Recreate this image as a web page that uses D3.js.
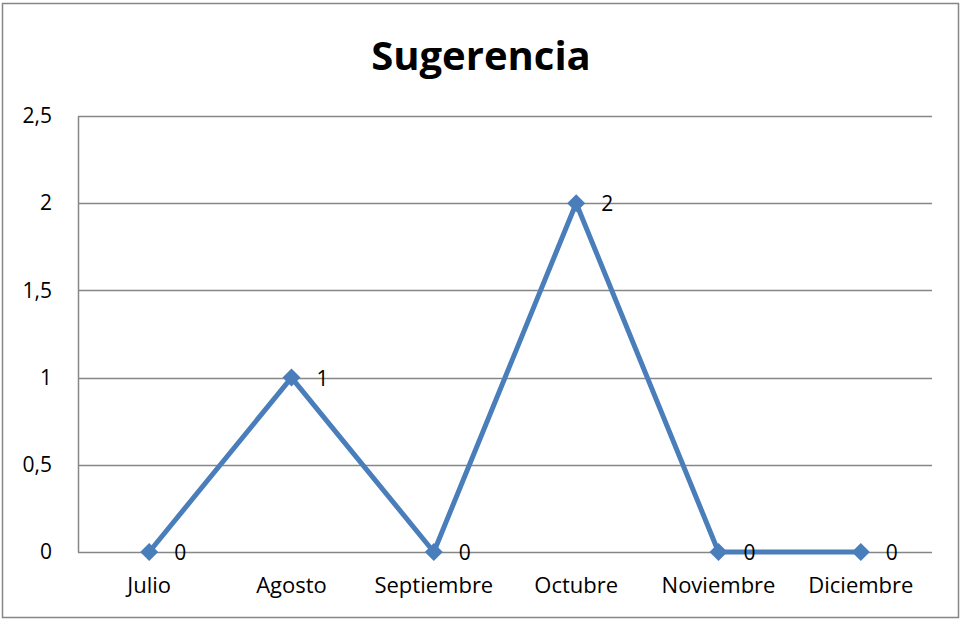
<!DOCTYPE html>
<html>
<head>
<meta charset="utf-8">
<script src="https://cdn.jsdelivr.net/npm/d3@7"></script>
<style>
  body { margin: 0; background: #fff; }
  text { font-family: "Open Sans", "Noto Sans", sans-serif; fill: #000; }
</style>
</head>
<body>
<script>
// Data
const months = ["Julio", "Agosto", "Septiembre", "Octubre", "Noviembre", "Diciembre"];
const values = [0, 1, 0, 2, 0, 0];
const yTicks = [0, 0.5, 1, 1.5, 2, 2.5];

const width = 961, height = 620;
const margin = { top: 116, right: 29, bottom: 68, left: 78 },
    graphWidth = width - margin.left - margin.right,
    graphHeight = height - margin.top - margin.bottom;

const svg = d3.select("body")
    .append("svg")
    .attr("width", width)
    .attr("height", height);

// outer border
svg.append("rect")
    .attr("x", 2.5).attr("y", 3.5)
    .attr("width", width - 5).attr("height", height - 6)
    .attr("fill", "none")
    .attr("stroke", "#868686")
    .attr("stroke-width", 1.5);

// title
svg.append("text")
    .attr("x", 481).attr("y", 70)
    .attr("text-anchor", "middle")
    .attr("font-size", 40)
    .attr("font-weight", "bold")
    .text("Sugerencia");

const graph = svg.append("g")
    .attr("transform", `translate(${margin.left}, ${margin.top})`);

const x = d3.scaleBand().domain(months).range([0, graphWidth]);
const y = d3.scaleLinear().domain([0, 2.5]).range([graphHeight, 0]);
const fmt = d => String(d).replace(".", ",");

// gridlines
graph.append("g")
    .selectAll("line")
    .data(yTicks)
    .join("line")
    .attr("x1", 0).attr("x2", graphWidth)
    .attr("y1", d => Math.round(y(d)) + 0.5)
    .attr("y2", d => Math.round(y(d)) + 0.5)
    .attr("stroke", "#868686")
    .attr("stroke-width", 1.5);

// y axis
const yAxisGroup = graph.append("g")
    .call(d3.axisLeft(y).tickValues(yTicks).tickSize(0).tickPadding(26).tickFormat(fmt));
yAxisGroup.select(".domain").attr("stroke", "#868686").attr("stroke-width", 1.5);
yAxisGroup.selectAll("text").attr("font-size", 21).attr("fill", "#000")
    .style("font-family", "'Open Sans', sans-serif");

// x axis labels
const xAxisGroup = graph.append("g")
    .attr("transform", `translate(0, ${graphHeight})`)
    .call(d3.axisBottom(x).tickSize(0).tickPadding(25));
xAxisGroup.select(".domain").remove();
xAxisGroup.selectAll("text").attr("font-size", 22).attr("fill", "#000")
    .style("font-family", "'Open Sans', sans-serif");

const cx = d => x(d) + x.bandwidth() / 2;
const data = months.map((m, i) => ({ m, v: values[i] }));

// line
graph.append("path")
    .datum(data)
    .attr("fill", "none")
    .attr("stroke", "#4A7EBB")
    .attr("stroke-width", 5)
    .attr("stroke-linejoin", "round")
    .attr("d", d3.line().x(d => cx(d.m)).y(d => y(d.v)));

// diamond markers
graph.selectAll(".marker")
    .data(data)
    .join("path")
    .attr("class", "marker")
    .attr("transform", d => `translate(${cx(d.m)}, ${y(d.v)})`)
    .attr("d", "M0,-9L9,0L0,9L-9,0Z")
    .attr("fill", "#4A7EBB");

// data labels
graph.selectAll(".label")
    .data(data)
    .join("text")
    .attr("class", "label")
    .attr("x", d => cx(d.m) + 25)
    .attr("y", d => y(d.v) + 8)
    .attr("font-size", 21)
    .text(d => d.v);
</script>
</body>
</html>
